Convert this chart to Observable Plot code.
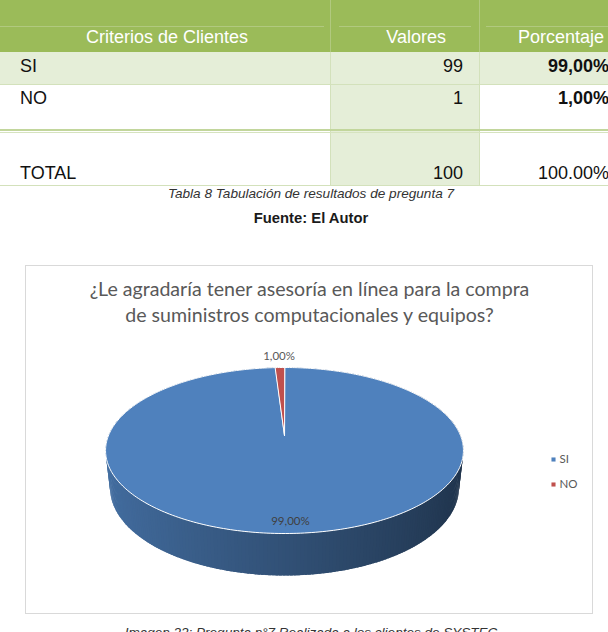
<!DOCTYPE html>
<html><head><meta charset="utf-8">
<script src="https://cdn.jsdelivr.net/npm/d3@7"></script>
<script src="https://cdn.jsdelivr.net/npm/@observablehq/plot@0.6"></script>
<style>
body{margin:0;width:608px;height:632px;overflow:hidden;position:relative;background:#fff;font-family:"Liberation Sans",Arial,sans-serif;}
.r{position:absolute;}
.t{position:absolute;font-size:18px;line-height:20px;white-space:nowrap;color:#111;}
.cap{position:absolute;left:0;width:622px;text-align:center;white-space:nowrap;line-height:16px;}
</style></head><body>
<div id="tabla"></div>
<div class="cap" id="cap1" style="top:186px;font-size:13.6px;font-style:italic;color:#333;"></div>
<div class="cap" id="cap2" style="top:210px;font-size:14.8px;font-weight:bold;color:#1a1a1a;"></div>
<div id="box" class="r" style="left:25px;top:265px;width:566px;height:347px;border:1px solid #d9d9d9;"></div>
<div class="cap" id="cap3" style="top:625px;font-size:13.5px;font-style:italic;color:#333;"></div>
<script>
// ---- data ----
const categorias = ["SI", "NO"];
const valores = [99, 1];
const porcentajes = ["99,00%", "1,00%"];
const colores = ["#4f81bd", "#c0504d"];
const totalEtiqueta = "TOTAL";
const totalValor = 100;
const totalPorcentaje = "100.00%";
const encabezados = ["Criterios de Clientes", "Valores", "Porcentaje"];
const tituloGrafico = ["¿Le agradaría tener asesoría en línea para la compra", "de suministros computacionales y equipos?"];
const captionTabla = "Tabla 8 Tabulación de resultados de pregunta 7";
const fuente = "Fuente: El Autor";
const captionImagen = "Imagen 22: Pregunta n°7 Realizada a los clientes de SYSTEC";

// ---- table (HTML) ----
const tabla = document.getElementById("tabla");
function rect(l, t, w, h, c) {
  const d = document.createElement("div");
  d.className = "r";
  Object.assign(d.style, {left: l + "px", top: t + "px", width: w + "px", height: h + "px", background: c});
  tabla.appendChild(d);
}
function txt(s, cy, opts) {
  const d = document.createElement("div");
  d.className = "t";
  d.textContent = s;
  d.style.top = (cy - 10) + "px";
  if (opts.left != null) d.style.left = opts.left + "px";
  if (opts.right != null) d.style.right = (608 - opts.right) + "px";
  if (opts.center != null) { d.style.left = (opts.center - 200) + "px"; d.style.width = "400px"; d.style.textAlign = "center"; }
  if (opts.color) d.style.color = opts.color;
  if (opts.bold) d.style.fontWeight = "bold";
  tabla.appendChild(d);
}
rect(0, 0, 608, 52, "#9bbb59");
rect(0, 26, 324, 1, "#b1c97f"); rect(339, 26, 132, 1, "#b1c97f"); rect(486, 26, 122, 1, "#b1c97f");
rect(330, 0, 1, 52, "#b1c97f"); rect(479, 0, 1, 52, "#b1c97f");
rect(0, 52, 608, 32, "#e5eed8");
rect(330, 84, 149, 101, "#e5eed8");
rect(330, 52, 1, 133, "#d3e1bb"); rect(479, 52, 1, 133, "#d3e1bb");
rect(0, 84, 608, 1, "#d3e1bb");
rect(0, 129, 608, 2, "#c2d69c"); rect(0, 132, 608, 1, "#d6e3bf");
rect(0, 185, 608, 1, "#d3e1bb");

txt(encabezados[0], 37, {center: 167, color: "#fff"});
txt(encabezados[1], 37, {right: 446, color: "#fff"});
txt(encabezados[2], 37, {right: 604, color: "#fff"});
const filasY = [66, 98];
categorias.forEach((c, i) => {
  txt(c, filasY[i], {left: 20});
  txt(String(valores[i]), filasY[i], {right: 463});
  txt(porcentajes[i], filasY[i], {right: 609, bold: true});
});
txt(totalEtiqueta, 173, {left: 20});
txt(String(totalValor), 173, {right: 463});
txt(totalPorcentaje, 173, {right: 609});
document.getElementById("cap1").textContent = captionTabla;
document.getElementById("cap2").textContent = fuente;
document.getElementById("cap3").textContent = captionImagen;

// ---- 3D pie geometry (page coordinates) ----
const CX = 284, CY = 435, R = 176, B = 80.3, K = -0.1807;
function proj(theta, r, h) {
  const u = r * Math.sin(theta), v = -r * Math.cos(theta);
  const den = 1 + K * v;
  return {X: CX + R * u / den * (1 - 0.025 * h), Y: CY + B * v / den + h * (36 + 6 * v)};
}
const arcs = d3.pie().sort(null)(valores);
const DEG = Math.PI / 180;
const topPts = [], sidePts = [], labels = [];
arcs.forEach((a, i) => {
  const n = Math.max(2, Math.ceil((a.endAngle - a.startAngle) / DEG));
  topPts.push({id: categorias[i], color: colores[i], ...proj(0, 0, 0)});
  for (let k = 0; k <= n; k++) {
    const th = a.startAngle + (a.endAngle - a.startAngle) * k / n;
    topPts.push({id: categorias[i], color: colores[i], ...proj(th, 1, 0)});
  }
  const c0 = d3.color(colores[i]).darker(0.45), c1 = d3.color(colores[i]).darker(2.6);
  const grad = d3.interpolateRgb(c0, c1);
  for (let k = 0; k < n; k++) {
    const t0 = a.startAngle + (a.endAngle - a.startAngle) * k / n;
    const t1 = Math.min(a.endAngle, a.startAngle + (a.endAngle - a.startAngle) * (k + 1) / n + 0.8 * DEG);
    const col = grad((Math.sin((t0 + t1) / 2) + 1) / 2);
    const id = categorias[i] + k;
    [proj(t0, 1, 0), proj(t1, 1, 0), proj(t1, 1, 1), proj(t0, 1, 1)].forEach(p => sidePts.push({id, color: col, ...p}));
  }
  const mid = (a.startAngle + a.endAngle) / 2;
  const small = (a.endAngle - a.startAngle) < 0.3;
  labels.push({text: porcentajes[i], color: small ? "#595959" : "#404040", ...proj(mid, small ? 1.2 : 0.9, 0)});
});

const font = "Lato, 'Open Sans', sans-serif";
const chart = Plot.plot({
  width: 566, height: 347, margin: 0,
  x: {domain: [26, 592], axis: null},
  y: {domain: [266, 613], range: [0, 347], axis: null},
  color: {type: "identity"},
  style: {background: "transparent", fontFamily: font},
  marks: [
    Plot.line(sidePts, {x: "X", y: "Y", z: "id", fill: "color", stroke: "none", curve: "linear-closed"}),
    Plot.line(topPts, {x: "X", y: "Y", z: "id", fill: "color", stroke: "white", strokeWidth: 1, curve: "linear-closed"}),
    Plot.text(labels, {x: "X", y: "Y", text: "text", fill: "color", fontSize: 11.5, fontFamily: font}),
    Plot.text(tituloGrafico, {x: () => 309, y: (d, i) => 289 + i * 26, text: d => d, fontSize: 19.6, fill: "#595959", fontFamily: font}),
    Plot.dot(categorias, {x: () => 553, y: (d, i) => 459 + i * 25, fill: (d, i) => colores[i], symbol: "square", r: 2.3}),
    Plot.text(categorias, {x: () => 559, y: (d, i) => 459 + i * 25, text: d => d, textAnchor: "start", fontSize: 11.5, fill: "#595959", fontFamily: font})
  ]
});
document.getElementById("box").appendChild(chart);
</script>
</body></html>
